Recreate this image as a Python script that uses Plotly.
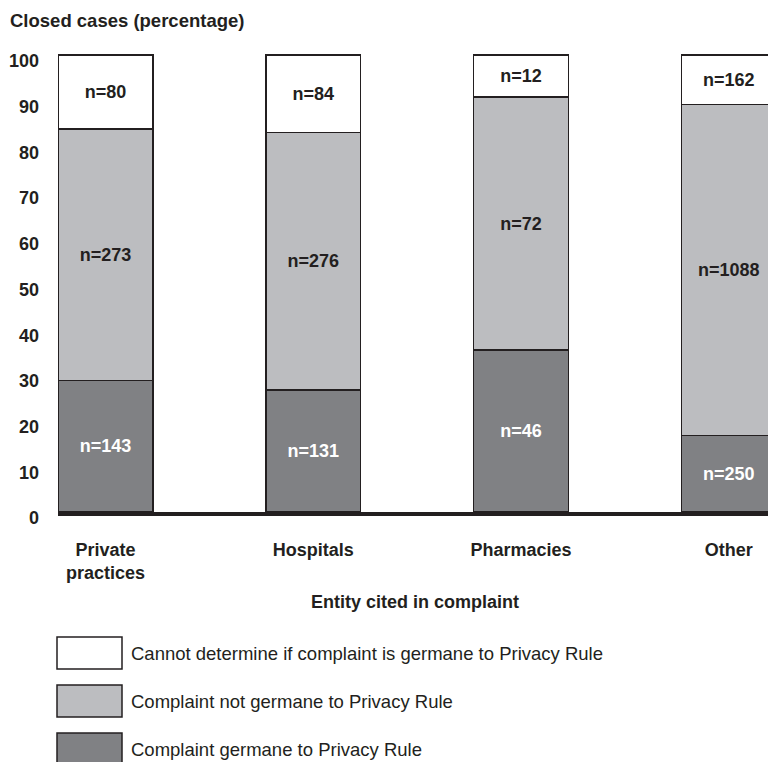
import plotly.graph_objects as go

# ---- data ----
categories = ["Private<br>practices", "Hospitals", "Pharmacies", "Other"]
germane_pct = [28.8, 26.7, 35.4, 16.7]
not_germane_pct = [55.0, 56.3, 55.4, 72.5]
cannot_pct = [16.2, 17.0, 9.2, 10.8]
germane_n = [143, 131, 46, 250]
not_germane_n = [273, 276, 72, 1088]
cannot_n = [80, 84, 12, 162]
series_names = [
    "Complaint germane to Privacy Rule",
    "Complaint not germane to Privacy Rule",
    "Cannot determine if complaint is germane to Privacy Rule",
]
y_ticks = list(range(0, 101, 10))

FONT = "Liberation Sans, Arial, Helvetica, sans-serif"
INK = "#231f20"
WHITE = "#ffffff"
LIGHT = "#bcbdc0"
DARK = "#808184"

x = list(range(len(categories)))
W, H = 768, 762
ML, MR, MT, MB = 58, 0, 50, 250
pw, ph = W - ML - MR, H - MT - MB

fig = go.Figure()
specs = [
    (germane_pct, germane_n, DARK, WHITE, series_names[0]),
    (not_germane_pct, not_germane_n, LIGHT, INK, series_names[1]),
    (cannot_pct, cannot_n, WHITE, INK, series_names[2]),
]
for vals, ns, fill, tcol, name in specs:
    fig.add_trace(go.Bar(
        x=x, y=vals, name=name, width=0.457,
        marker=dict(color=fill, line=dict(color=INK, width=1.5)),
        text=[f"n={n}" for n in ns],
        textposition="inside", insidetextanchor="middle", textangle=0,
        insidetextfont=dict(family=FONT, size=18, color=tcol, weight="bold"),
        showlegend=False, hoverinfo="skip",
    ))

fig.update_layout(
    barmode="stack", width=W, height=H,
    margin=dict(l=ML, r=MR, t=MT, b=MB, pad=0),
    paper_bgcolor="white", plot_bgcolor="white",
    font=dict(family=FONT, color=INK),
    showlegend=False,
)
fig.update_xaxes(
    range=[-0.2287, 3.189], tickmode="array", tickvals=x, ticktext=categories,
    showline=True, linewidth=4, linecolor=INK, showgrid=False, zeroline=False,
    ticks="", ticklabelstandoff=18,
    tickfont=dict(family=FONT, size=18, color=INK, weight="bold"),
)
fig.update_yaxes(
    range=[0, ph / 4.57], tickmode="array", tickvals=y_ticks,
    showline=False, showgrid=False, zeroline=False, ticks="",
    ticklabelstandoff=18, ticklabelshift=6,
    tickfont=dict(family=FONT, size=18, color=INK, weight="bold"),
)

def px_x(p):
    return (p - ML) / pw

def px_y(p):
    return (H - MB - p) / ph

annos = [
    dict(text="<b>Closed cases (percentage)</b>", x=px_x(8), y=px_y(21),
         xanchor="left", yanchor="middle", font=dict(size=18.5)),
    dict(text="<b>Entity cited in complaint</b>", x=px_x(415), y=px_y(602),
         xanchor="center", yanchor="middle", font=dict(size=18)),
]
legend_order = [(WHITE, series_names[2], 637), (LIGHT, series_names[1], 685), (DARK, series_names[0], 733)]
for fill, name, top in legend_order:
    fig.add_shape(type="rect", xref="paper", yref="paper",
                  x0=px_x(57), x1=px_x(122), y0=px_y(top + 32), y1=px_y(top),
                  fillcolor=fill, line=dict(color=INK, width=1.5))
    annos.append(dict(text=name, x=px_x(129), y=px_y(top + 16),
                      xanchor="left", yanchor="middle", font=dict(size=18.5)))
for a in annos:
    a.update(xref="paper", yref="paper", showarrow=False)
    a["font"].update(family=FONT, color=INK)
fig.update_layout(annotations=annos)

fig.write_html("out.html")
